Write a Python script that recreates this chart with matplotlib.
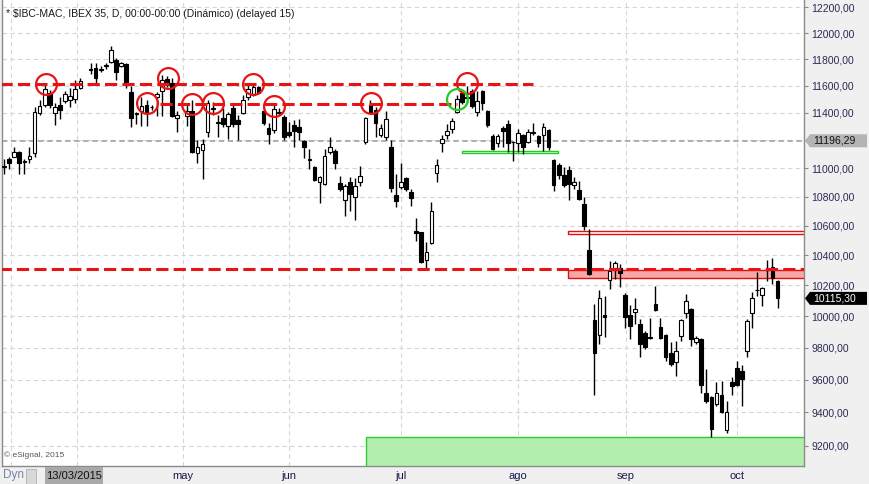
import numpy as np
import matplotlib
matplotlib.use('Agg')
import matplotlib.pyplot as plt
from matplotlib.patches import Rectangle, Polygon
from matplotlib.ticker import NullLocator
from matplotlib.transforms import IdentityTransform

plt.rcParams['font.family'] = ['Liberation Sans', 'DejaVu Sans']

nan = float('nan')
# daily OHLC (bar slots; NaN = holiday gap)
open_ = [11010, 11069, 11083, 11119, 11050, 11069, 11105, 11401, 11459, 11548,
         11401, 11459, 11489, 11496, 11503, 11585, nan, 11728, 11735, 11715,
         11750, 11780, 11795, 11750, 11765, 11555, 11393, 11416, 11459, 11440,
         11518, 11562, 11652, 11622, 11364, nan, 11379, 11416, 11105, 11133,
         11263, 11430, 11328, 11364, 11306, 11437, 11350, 11401, 11518, 11533,
         11592, 11416, 11292, 11277, 11400, 11372, 11263, 11313, 11299, 11198,
         11062, 11012, 10900, 10886, 11112, 11126, 10893, 10775, 10900, 10796,
         10900, 11190, 11459, 11423, 11241, 11226, 11148, 10810, 10865, 10928,
         10830, 10563, 10556, 10368, 10482, 10963, 11183, 11241, 11284, 11408,
         11548, 11510, 11562, 11408, 11562, 11416, 11234, 11183, 11292, 11321,
         11190, 11183, 11241, 11190, 11255, 11234, 11241, 11277, 11055, 11026,
         10949, 10984, 10879, 10844, 10748, 10435, 9977, 9881, 10008, 10236,
         10315, 10315, 10138, 10008, 10027, 9951, 9894, 9865, 10079, 9932,
         9881, 9768, 9712, 9875, 10021, 10047, 9837, 9856, 9520, 9490,
         9447, 9502, 9291, 9582, 9674, 9655, 9781, 10021, 10168, 10138,
         10302, 10322, 10230]
high = [11069, 11083, 11148, 11126, 11062, 11148, 11445, 11496, 11607, 11570,
        11474, 11518, 11562, 11585, 11645, 11660, nan, 11773, 11773, 11750,
        11773, 11900, 11810, 11780, 11773, 11600, 11408, 11518, 11496, 11459,
        11555, 11683, 11675, 11660, 11416, nan, 11474, 11496, 11205, 11212,
        11496, 11481, 11386, 11437, 11408, 11474, 11386, 11533, 11607, 11607,
        11600, 11445, 11328, 11459, 11437, 11386, 11335, 11350, 11357, 11205,
        11140, 11019, 10942, 11140, 11226, 11140, 10942, 10886, 10935, 10928,
        11019, 11372, 11496, 11445, 11321, 11416, 11205, 10956, 11034, 10935,
        10851, 10652, 10560, 10489, 10762, 11069, 11241, 11321, 11364, 11533,
        11555, 11600, 11577, 11562, 11565, 11423, 11248, 11248, 11306, 11350,
        11198, 11284, 11248, 11284, 11328, 11241, 11328, 11284, 11062, 11040,
        11012, 11019, 10935, 10907, 10796, 10577, 10079, 10170, 10131, 10362,
        10362, 10342, 10151, 10073, 10118, 9983, 9906, 9989, 10196, 9989,
        9885, 9837, 9843, 9983, 10144, 10053, 9875, 9862, 9668, 9496,
        9582, 9594, 9466, 9618, 9718, 9693, 9983, 10157, 10289, 10190,
        10368, 10382, 10235]
low = [10956, 10998, 11080, 10956, 10956, 11040, 11083, 11386, 11445, 11437,
       11313, 11357, 11474, 11445, 11474, 11577, nan, 11690, 11622, 11700,
       11728, 11773, 11645, 11740, 11585, 11299, 11320, 11306, 11306, 11423,
       11379, 11379, 11592, 11372, 11263, nan, 11306, 11105, 11040, 10921,
       11220, 11386, 11226, 11299, 11212, 11299, 11205, 11393, 11496, 11525,
       11540, 11313, 11176, 11255, 11386, 11205, 11226, 11155, 11205, 11076,
       10991, 10907, 10754, 10879, 11098, 10998, 10837, 10665, 10700, 10638,
       10872, 11176, 11398, 11226, 11226, 11205, 10830, 10727, 10851, 10837,
       10734, 10495, 10348, 10315, 10475, 10900, 11119, 11212, 11255, 11401,
       11467, 11474, 11437, 11379, 11423, 11299, 11133, 11148, 11148, 11112,
       11048, 11112, 11098, 11183, 11241, 11155, 11126, 11133, 10837, 10921,
       10865, 10775, 10851, 10775, 10570, 10269, 9502, 9825, 9869, 10177,
       10243, 10190, 9925, 9856, 9951, 9743, 9793, 9856, 10034, 9856,
       9718, 9686, 9624, 9843, 9989, 9812, 9825, 9520, 9454, 9250,
       9435, 9393, 9273, 9502, 9563, 9435, 9743, 9925, 10131, 10066,
       10230, 10210, 10053]
close = [11015, 11040, 11112, 11034, 11045, 11090, 11408, 11452, 11577, 11459,
         11445, 11423, 11540, 11525, 11577, 11637, nan, 11722, 11660, 11728,
         11757, 11870, 11705, 11772, 11607, 11365, 11400, 11452, 11408, 11445,
         11540, 11645, 11607, 11379, 11386, nan, 11416, 11112, 11155, 11176,
         11474, 11437, 11330, 11321, 11393, 11321, 11321, 11496, 11577, 11592,
         11548, 11328, 11248, 11430, 11408, 11220, 11241, 11270, 11263, 11155,
         11058, 10914, 10935, 11090, 11155, 11034, 10851, 10872, 10816, 10872,
         10942, 11364, 11401, 11328, 11292, 11357, 10858, 10768, 10900, 10851,
         10789, 10550, 10355, 10422, 10700, 11026, 11212, 11270, 11342, 11503,
         11481, 11515, 11452, 11489, 11474, 11313, 11140, 11234, 11270, 11183,
         11185, 11255, 11155, 11263, 11260, 11183, 11299, 11155, 10879, 10949,
         10879, 10886, 10900, 10782, 10597, 10275, 9768, 10118, 9995, 10295,
         10348, 10282, 9995, 9938, 10047, 9825, 9806, 9860, 10040, 9862,
         9743, 9699, 9781, 9977, 10099, 9856, 9862, 9569, 9466, 9297,
         9520, 9399, 9399, 9563, 9569, 9606, 9970, 10118, 10172, 10184,
         10315, 10250, 10115]

month_labels = ['may', 'jun', 'jul', 'ago', 'sep', 'oct']
month_pos = [35.2, 56.0, 78.0, 101.0, 122.2, 144.0]
extra_grid = [1.4, 14.3]
price_ticks = [9200, 9400, 9600, 9800, 10000, 10200, 10400, 10600, 10800,
               11000, 11200, 11400, 11600, 11800, 12000, 12200]
prev_ref = 11196.29
last_price = 10115.30

# annotations drawn by the analyst
red_circles_x = [8.25, 28.1, 32.2, 36.9, 41.1, 48.9, 53.0, 72.1, 91.0]
red_circles_y = [11615, 11474, 11660, 11467, 11474, 11615, 11452, 11474, 11622]
green_circle = (89.0, 11503)
resist_hi = (11615, -0.8, 103.9)
resist_lo = (11467, 30.6, 89.0)
support_line = 10309

W, H = 870, 484
fig = plt.figure(figsize=(W / 100, H / 100), dpi=100, facecolor='#f0f0f0')
ax = fig.add_axes([2 / W, 1 - 466 / H, (804 - 2) / W, 466 / H])
ax.set_facecolor('white')
ax.set_yscale('log')
xmin, xmax = -0.4, 157.2
ax.set_xlim(xmin, xmax)
ax.set_ylim(9080, 12259)

# grid
for p in price_ticks:
    ax.axhline(p, color='#d6d6d6', lw=0.8, dashes=(4, 3), zorder=0)
for g in month_pos + extra_grid:
    ax.axvline(g, color='#d6d6d6', lw=0.8, dashes=(4, 3), zorder=0)
ax.axhline(prev_ref, color='#a8a8a8', lw=1.3, dashes=(3, 2), zorder=1)

# zones
ax.add_patch(Rectangle((71.1, 9000), xmax - 71.1 + 1, 9250 - 9000,
                       facecolor='#b3f0b0', edgecolor='#2ecc2e', lw=1.0, zorder=1))
ax.add_patch(Rectangle((110.8, 10250), xmax - 110.8 + 1, 10302 - 10250,
                       facecolor='#f6a8a8', edgecolor='#e01010', lw=1.0, zorder=1))
ax.add_patch(Rectangle((110.8, 10545), xmax - 110.8 + 1, 10565 - 10545,
                       facecolor='white', edgecolor='#e01010', lw=1.0, zorder=1))
ax.add_patch(Rectangle((90.0, 11105), 108.8 - 90.0, 11120 - 11105,
                       facecolor='white', edgecolor='#22cc22', lw=1.0, zorder=1))

# candles
for i in range(len(open_)):
    o, h, l, c = open_[i], high[i], low[i], close[i]
    if np.isnan(o):
        continue
    ax.vlines(i, l, h, color='black', lw=1.0, zorder=2)
    lo, hi = min(o, c), max(o, c)
    if hi - lo < 3:
        hi = lo + 3
    up = c >= o
    ax.add_patch(Rectangle((i - 0.36, lo), 0.72, hi - lo,
                           facecolor='white' if up else 'black',
                           edgecolor='black', lw=0.8, zorder=3))

# red dashed levels
red = '#e61414'
ax.plot([resist_hi[1], resist_hi[2]], [resist_hi[0]] * 2, color=red, lw=2.2,
        dashes=(4, 1.7), zorder=4, solid_capstyle='butt')
ax.plot([resist_lo[1], resist_lo[2]], [resist_lo[0]] * 2, color=red, lw=2.2,
        dashes=(4, 1.7), zorder=4)
ax.plot([xmin - 1, xmax + 1], [support_line] * 2, color=red, lw=2.2,
        dashes=(4, 1.7), zorder=4)

# circles
ax.plot(red_circles_x, red_circles_y, 'o', ms=15, mfc='none', mec=red, mew=1.6, zorder=5)
ax.plot([green_circle[0]], [green_circle[1]], 'o', ms=15, mfc='none', mec='#22cc22',
        mew=1.6, zorder=5)

# axes styling
ax.yaxis.tick_right()
ax.set_yticks(price_ticks)
ax.set_yticklabels(['' if p == 11200 else f'{p:.2f}'.replace('.', ',') for p in price_ticks])
ax.yaxis.set_minor_locator(NullLocator())
ax.tick_params(axis='y', which='major', length=3, width=0.8, color='#888888',
               labelsize=7.5, labelcolor='#2a2a55', pad=2.5)
ax.set_xticks(month_pos)
ax.set_xticklabels(month_labels)
ax.tick_params(axis='x', length=0, labelsize=8, labelcolor='#1a1a4a', pad=3.5)
ax.spines['top'].set_visible(False)
for s in ['left', 'right', 'bottom']:
    ax.spines[s].set_color('#8a8a8a')
    ax.spines[s].set_linewidth(1.0)

# price tags on the right axis
def tag(price, face, tcolor, text):
    y = ax.transData.transform((0, price))[1]
    x0 = ax.transAxes.transform((1, 0))[0] + 1
    pts = [(x0, y), (x0 + 5, y + 6.5), (x0 + 62, y + 6.5), (x0 + 62, y - 6.5), (x0 + 5, y - 6.5)]
    poly = Polygon(pts, closed=True, facecolor=face, edgecolor='none',
                   transform=IdentityTransform())
    fig.add_artist(poly)
    fig.text((x0 + 8) / W, y / H, text, fontsize=7.5, color=tcolor, va='center', ha='left')

tag(prev_ref, '#b4b4b4', '#111111', f'{prev_ref:.2f}'.replace('.', ','))
tag(last_price, '#000000', '#ffffff', f'{last_price:.2f}'.replace('.', ','))

# texts
fig.text(6 / W, 1 - 14 / H, '* $IBC-MAC, IBEX 35, D, 00:00-00:00 (Dinámico) (delayed 15)',
         fontsize=7.5, color='#1a1a1a', va='center', ha='left')
fig.text(4 / W, 1 - 455 / H, '© eSignal, 2015', fontsize=6, color='#555555',
         va='center', ha='left')
fig.text(3 / W, 1 - 475 / H, 'Dyn', fontsize=8.5, color='#7585a5', va='center', ha='left')
fig.add_artist(Rectangle((26 / W, 1 - 484 / H), 10 / W, 15 / H, transform=fig.transFigure,
                         facecolor='#d8d8d8', edgecolor='#b0b0b0', lw=0.6))
fig.add_artist(Rectangle((45 / W, 1 - 484 / H), 58 / W, 17 / H, transform=fig.transFigure,
                         facecolor='#a9a9a9', edgecolor='none'))
fig.text(74 / W, 1 - 476 / H, '13/03/2015', fontsize=8, color='#111111',
         va='center', ha='center')

fig.savefig('out.png', dpi=100, facecolor=fig.get_facecolor())
